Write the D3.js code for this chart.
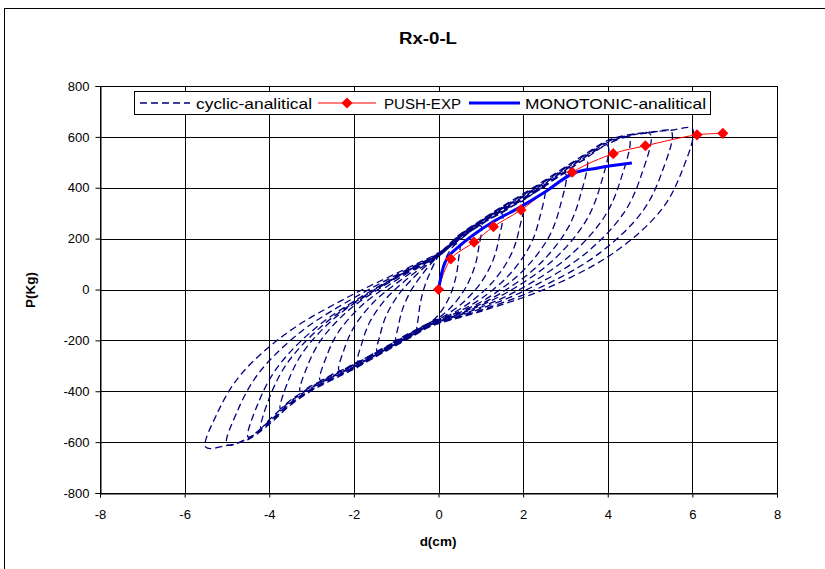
<!DOCTYPE html>
<html>
<head>
<meta charset="utf-8">
<script src="https://cdn.jsdelivr.net/npm/d3@7"></script>
<style>
  body { margin: 0; background: #fff; }
  text { font-family: Arial, "Liberation Sans", sans-serif; }
</style>
</head>
<body>
<svg id="chart" width="825" height="569"></svg>
<script>
// ---- data ----
const xTicks = [-8, -6, -4, -2, 0, 2, 4, 6, 8];
const yTicks = [-800, -600, -400, -200, 0, 200, 400, 600, 800];

// PUSH-EXP (experimental pushover)
const pushExp = [
    [0, 0], [0.29, 120], [0.84, 186], [1.30, 247], [1.95, 313],
    [3.16, 461], [4.13, 534], [4.89, 565], [6.11, 608], [6.72, 614]
];

// MONOTONIC-analitical
const monotonic = [
    [0, 0], [0.12, 90], [0.23, 129], [0.43, 162], [0.83, 215], [1.30, 267],
    [1.93, 324], [2.48, 379], [3.19, 457], [3.74, 477], [4.57, 497]
];

// cyclic-analitical, one array per cycle (continues from the previous one)
const cycle1 = [[0, 0], [0.1, 90], [0.3, 160], [0.5, 185],
    [0.472, 116], [0.416, 53], [0.29, -17], [0.115, -73], [-0.06, -111], [-0.2, -130], [-0.35, -148], [-0.5, -160]];
const cycle2 = [[-0.475, -108], [-0.425, -50], [-0.325, 14], [-0.2, 66], [-0.075, 110], [0, 130], [0.5, 195], [1.0, 250],
    [0.952, 166], [0.856, 90], [0.64, 7], [0.34, -62], [0.04, -107], [-0.2, -130], [-0.5, -157], [-1.0, -205]];
const cycle3 = [[-0.95, -145], [-0.85, -78], [-0.65, -4], [-0.4, 56], [-0.15, 107], [0, 130], [0.5, 198], [1.0, 254], [1.5, 298],
    [1.432, 204], [1.296, 118], [0.99, 24], [0.565, -53], [0.14, -104], [-0.2, -130], [-0.5, -155], [-1.0, -200], [-1.45, -245]];
const cycle4 = [[-1.378, -177], [-1.233, -102], [-0.943, -20], [-0.58, 48], [-0.218, 104], [0, 130], [0.5, 200], [1.0, 256], [1.5, 302], [2.0, 345],
    [1.912, 240], [1.736, 145], [1.34, 41], [0.79, -45], [0.24, -102], [-0.2, -130], [-0.5, -158], [-1.0, -203], [-1.5, -247], [-1.9, -282]];
const cycle5 = [[-1.805, -208], [-1.615, -125], [-1.235, -35], [-0.76, 39], [-0.285, 101], [0, 130], [0.5, 202], [1.0, 258], [1.5, 305], [2.0, 350], [2.5, 400],
    [2.392, 283], [2.176, 177], [1.69, 61], [1.015, -35], [0.34, -98], [-0.2, -132], [-0.5, -160], [-1.0, -206], [-1.5, -250], [-2.0, -292], [-2.35, -318]];
const cycle6 = [[-2.233, -237], [-1.998, -148], [-1.528, -49], [-0.94, 31], [-0.353, 99], [0, 130], [0.5, 204], [1.0, 260], [1.5, 308], [2.0, 353], [2.5, 404], [3.0, 455],
    [2.872, 326], [2.616, 209], [2.04, 81], [1.24, -25], [0.44, -95], [-0.2, -134], [-0.5, -162], [-1.0, -208], [-1.5, -253], [-2.0, -295], [-2.5, -333], [-2.8, -356]];
const cycle7 = [[-2.66, -269], [-2.38, -171], [-1.82, -64], [-1.12, 23], [-0.42, 96], [0, 132], [0.5, 206], [1.0, 262], [1.5, 311], [2.0, 357], [2.5, 408], [3.0, 460], [3.5, 510],
    [3.352, 369], [3.056, 241], [2.39, 100], [1.465, -15], [0.54, -92], [-0.2, -136], [-0.5, -164], [-1.0, -210], [-1.5, -256], [-2.0, -298], [-2.5, -337], [-3.0, -378], [-3.27, -400]];
const cycle8 = [[-3.107, -305], [-2.78, -199], [-2.126, -82], [-1.308, 13], [-0.49, 93], [0, 134], [0.5, 208], [1.0, 264], [1.5, 314], [2.0, 360], [2.5, 412], [3.0, 465], [3.5, 518], [4.0, 565],
    [3.832, 412], [3.496, 273], [2.74, 120], [1.69, -5], [0.64, -88], [-0.2, -138], [-0.5, -166], [-1.0, -212], [-1.5, -258], [-2.0, -301], [-2.5, -340], [-3.0, -382], [-3.5, -435], [-3.74, -468]];
const cycle9 = [[-3.553, -360], [-3.179, -241], [-2.431, -109], [-1.496, -2], [-0.561, 88], [0, 136], [0.5, 210], [1.0, 266], [1.5, 317], [2.0, 364], [2.5, 416], [3.0, 470], [3.5, 524], [4.0, 572], [4.5, 595],
    [4.312, 435], [3.936, 290], [3.09, 131], [1.915, 0], [0.74, -87], [-0.2, -140], [-0.5, -168], [-1.0, -214], [-1.5, -260], [-2.0, -304], [-2.5, -343], [-3.0, -386], [-3.5, -440], [-4.0, -512], [-4.2, -545]];
const cycle10 = [[-3.99, -423], [-3.57, -288], [-2.73, -140], [-1.68, -18], [-0.63, 83], [0, 138], [0.5, 212], [1.0, 268], [1.5, 320], [2.0, 368], [2.5, 420], [3.0, 474], [3.5, 528], [4.0, 578], [4.5, 603], [5.0, 612],
    [4.792, 449], [4.376, 300], [3.44, 137], [2.14, 4], [0.84, -85], [-0.2, -142], [-0.5, -170], [-1.0, -216], [-1.5, -262], [-2.0, -307], [-2.5, -346], [-3.0, -390], [-3.5, -445], [-4.0, -518], [-4.5, -580]];
const cycle11 = [[-4.275, -452], [-3.825, -310], [-2.925, -154], [-1.8, -26], [-0.675, 80], [0, 140], [0.5, 214], [1.0, 270], [1.5, 323], [2.0, 372], [2.5, 424], [3.0, 478], [3.5, 532], [4.0, 582], [4.5, 606], [5.0, 616], [5.5, 622],
    [5.272, 457], [4.816, 306], [3.79, 141], [2.365, 5], [0.94, -85], [-0.2, -144], [-0.5, -172], [-1.0, -218], [-1.5, -264], [-2.0, -310], [-2.5, -350], [-3.0, -394], [-3.5, -450], [-4.0, -524], [-4.5, -585], [-5.0, -610]];
const cycle12 = [[-4.75, -477], [-4.25, -329], [-3.25, -166], [-2.0, -33], [-0.75, 78], [0, 142], [0.5, 216], [1.0, 272], [1.5, 326], [2.0, 376], [2.5, 428], [3.0, 482], [3.5, 536], [4.0, 586], [4.5, 609], [5.0, 619], [5.5, 626], [6.0, 632],
    [5.75, 464], [5.26, 312], [4.14, 144], [2.59, 7], [1.04, -84], [-0.2, -146], [-0.5, -174], [-1.0, -220], [-1.5, -266], [-2.0, -313], [-2.5, -354], [-3.0, -398], [-3.5, -455], [-4.0, -530], [-4.5, -590], [-5.0, -613], [-5.5, -620],
    [-5.225, -485], [-4.675, -335], [-3.575, -170], [-2.2, -35], [-0.825, 77], [0, 144], [0.3, 180]];

const cyclic = [].concat(cycle1, cycle2, cycle3, cycle4, cycle5, cycle6,
    cycle7, cycle8, cycle9, cycle10, cycle11, cycle12);

// ---- layout ----
const margin = { top: 86, right: 48, bottom: 76, left: 100 };

const svg = d3.select("#chart");

// outer chart frame
svg.append("rect")
    .attr("x", 4.5).attr("y", 8.5)
    .attr("width", 900).attr("height", 700)
    .attr("fill", "none").attr("stroke", "#000").attr("stroke-width", 1);

const g = svg.append("g")
    .attr("transform", `translate(${margin.left},${margin.top})`);

const x = d3.scaleLinear().domain([-8, 8]).range([0, 677]);
const y = d3.scaleLinear().domain([-800, 800]).range([407, 0]);

// gridlines
g.append("g")
    .selectAll("line")
    .data(yTicks)
    .join("line")
    .attr("x1", 0).attr("x2", x(8))
    .attr("y1", d => Math.round(y(d)) + 0.5).attr("y2", d => Math.round(y(d)) + 0.5)
    .attr("stroke", "#000");

g.append("g")
    .selectAll("line")
    .data(xTicks)
    .join("line")
    .attr("y1", 0).attr("y2", y(-800))
    .attr("x1", d => Math.round(x(d)) + 0.5).attr("x2", d => Math.round(x(d)) + 0.5)
    .attr("stroke", "#000");

// axes (plain hyphen minus like the original)
const fmt = d => String(d);
const yAxis = d3.axisLeft(y).tickValues(yTicks).tickFormat(fmt).tickSize(5).tickPadding(6);
const xAxis = d3.axisBottom(x).tickValues(xTicks).tickFormat(fmt).tickSize(4).tickPadding(12);

const gy = g.append("g").attr("transform", "translate(0.5,0)").call(yAxis);
const gx = g.append("g").attr("transform", `translate(0,${Math.round(y(-800)) + 0.5})`).call(xAxis);
[gx, gy].forEach(a => {
    a.select(".domain").attr("stroke", "#000");
    a.selectAll(".tick line").attr("stroke", "#000");
    a.selectAll(".tick text").attr("font-size", 13).attr("fill", "#000")
        .style("font-family", "Arial, 'Liberation Sans', sans-serif");
});

// plot border
g.append("rect")
    .attr("x", 0.5).attr("y", 0.5)
    .attr("width", x(8)).attr("height", Math.round(y(-800)))
    .attr("fill", "none").attr("stroke", "#000");

// series
const line = d3.line()
    .x(d => x(d[0]))
    .y(d => y(d[1]))
    .curve(d3.curveCatmullRom.alpha(0.5));

g.append("path")
    .datum(cyclic)
    .attr("d", line)
    .attr("fill", "none")
    .attr("stroke", "#000080")
    .attr("stroke-width", 1.3)
    .attr("stroke-dasharray", "7,4");

g.append("path")
    .datum(pushExp)
    .attr("d", line)
    .attr("fill", "none")
    .attr("stroke", "#ff0000")
    .attr("stroke-width", 1);

g.append("path")
    .datum(monotonic)
    .attr("d", line)
    .attr("fill", "none")
    .attr("stroke", "#0000ff")
    .attr("stroke-width", 3);

const diamond = d3.symbol().type(d3.symbolSquare).size(62);
g.selectAll(".marker")
    .data(pushExp)
    .join("path")
    .attr("class", "marker")
    .attr("d", diamond)
    .attr("transform", d => `translate(${x(d[0])},${y(d[1])}) rotate(45)`)
    .attr("fill", "#ff0000");

// title & axis labels
svg.append("text")
    .attr("x", 428).attr("y", 44)
    .attr("text-anchor", "middle")
    .attr("font-size", 16).attr("font-weight", "bold")
    .attr("textLength", 58).attr("lengthAdjust", "spacingAndGlyphs")
    .text("Rx-0-L");

svg.append("text")
    .attr("x", 438).attr("y", 546)
    .attr("text-anchor", "middle")
    .attr("font-size", 13.5).attr("font-weight", "bold")
    .text("d(cm)");

svg.append("text")
    .attr("transform", "translate(35,290) rotate(-90)")
    .attr("text-anchor", "middle")
    .attr("font-size", 13.5).attr("font-weight", "bold")
    .text("P(Kg)");

// legend
const legend = svg.append("g").attr("transform", "translate(134,91)");
legend.append("rect")
    .attr("x", 0.5).attr("y", 0.5)
    .attr("width", 576).attr("height", 23)
    .attr("fill", "#fff").attr("stroke", "#000");

const legendItems = [
    { label: "cyclic-analitical", x0: 6, x1: 56, tx: 62, len: 116, color: "#000080", w: 1.3, dash: "7,4", marker: false },
    { label: "PUSH-EXP", x0: 184, x1: 242, tx: 250, len: 77, color: "#ff0000", w: 1, dash: null, marker: true },
    { label: "MONOTONIC-analitical", x0: 335, x1: 386, tx: 391, len: 181, color: "#0000ff", w: 3, dash: null, marker: false }
];
legendItems.forEach(it => {
    legend.append("line")
        .attr("x1", it.x0).attr("x2", it.x1)
        .attr("y1", 12).attr("y2", 12)
        .attr("stroke", it.color).attr("stroke-width", it.w)
        .attr("stroke-dasharray", it.dash);
    if (it.marker) {
        legend.append("path")
            .attr("d", diamond)
            .attr("transform", `translate(${(it.x0 + it.x1) / 2},12) rotate(45)`)
            .attr("fill", it.color);
    }
    legend.append("text")
        .attr("x", it.tx).attr("y", 17.5)
        .attr("font-size", 15)
        .attr("textLength", it.len).attr("lengthAdjust", "spacingAndGlyphs")
        .text(it.label);
});
</script>
</body>
</html>
